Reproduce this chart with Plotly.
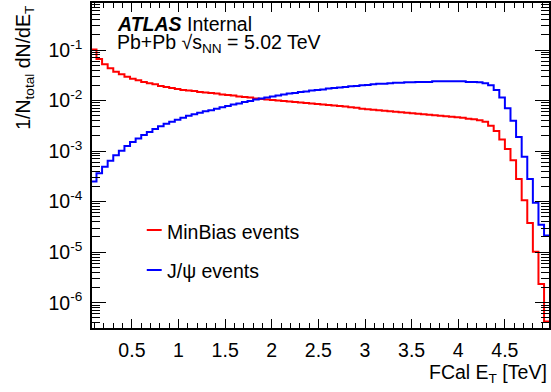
import numpy as np
import plotly.graph_objects as go

# FCal E_T binning [TeV]
bin_width = 0.06
first_edge = 0.06
n_bins = 82

# 1/N_total dN/dE_T per bin, minimum-bias sample
minbias = [
    1.02e-1, 6.61e-2, 5.25e-2, 4.37e-2, 3.72e-2, 3.31e-2, 2.95e-2, 2.69e-2, 2.51e-2, 2.34e-2,
    2.19e-2, 2.09e-2, 1.95e-2, 1.86e-2, 1.78e-2, 1.70e-2, 1.62e-2, 1.58e-2, 1.55e-2, 1.48e-2,
    1.45e-2, 1.41e-2, 1.38e-2, 1.32e-2, 1.29e-2, 1.26e-2, 1.20e-2, 1.17e-2, 1.15e-2, 1.10e-2,
    1.07e-2, 1.05e-2, 1.02e-2, 1.00e-2, 9.77e-3, 9.55e-3, 9.33e-3, 9.12e-3, 8.91e-3, 8.71e-3,
    8.51e-3, 8.32e-3, 8.13e-3, 7.94e-3, 7.76e-3, 7.59e-3, 7.41e-3, 7.24e-3, 6.92e-3, 6.76e-3,
    6.61e-3, 6.46e-3, 6.31e-3, 6.17e-3, 6.03e-3, 5.89e-3, 5.75e-3, 5.62e-3, 5.50e-3, 5.37e-3,
    5.25e-3, 5.13e-3, 5.01e-3, 4.90e-3, 4.79e-3, 4.68e-3, 4.57e-3, 4.37e-3, 4.27e-3, 4.07e-3,
    3.80e-3, 3.16e-3, 2.51e-3, 1.70e-3, 1.10e-3, 6.61e-4, 2.82e-4, 1.07e-4, 3.80e-5, 1.02e-5,
    2.34e-6, 4.27e-7,
]

# 1/N_total dN/dE_T per bin, J/psi-triggered sample
jpsi = [
    2.51e-4, 3.63e-4, 4.90e-4, 6.46e-4, 8.32e-4, 1.02e-3, 1.26e-3, 1.51e-3, 1.78e-3, 2.09e-3,
    2.40e-3, 2.75e-3, 3.09e-3, 3.47e-3, 3.80e-3, 4.17e-3, 4.57e-3, 5.01e-3, 5.37e-3, 5.75e-3,
    6.17e-3, 6.46e-3, 6.92e-3, 7.41e-3, 7.76e-3, 8.32e-3, 8.71e-3, 9.33e-3, 9.77e-3, 1.05e-2,
    1.10e-2, 1.15e-2, 1.20e-2, 1.26e-2, 1.32e-2, 1.38e-2, 1.41e-2, 1.48e-2, 1.51e-2, 1.58e-2,
    1.62e-2, 1.66e-2, 1.74e-2, 1.78e-2, 1.82e-2, 1.86e-2, 1.91e-2, 1.95e-2, 2.00e-2, 2.04e-2,
    2.09e-2, 2.14e-2, 2.14e-2, 2.19e-2, 2.24e-2, 2.24e-2, 2.29e-2, 2.29e-2, 2.34e-2, 2.34e-2,
    2.34e-2, 2.40e-2, 2.40e-2, 2.40e-2, 2.40e-2, 2.40e-2, 2.40e-2, 2.34e-2, 2.34e-2, 2.29e-2,
    2.19e-2, 2.00e-2, 1.62e-2, 1.15e-2, 7.08e-3, 3.98e-3, 1.91e-3, 7.76e-4, 2.82e-4, 9.55e-5,
    3.47e-5, 2.14e-5,
]

y_tick_vals = [1e-6, 1e-5, 1e-4, 1e-3, 1e-2, 1e-1]
y_tick_text = ["10<sup>-6</sup>", "10<sup>-5</sup>", "10<sup>-4</sup>",
               "10<sup>-3</sup>", "10<sup>-2</sup>", "10<sup>-1</sup>"]

edges = first_edge + bin_width * np.arange(n_bins + 1)

FONT = "Liberation Sans, Arial, Helvetica, sans-serif"
FS = 19.5

fig = go.Figure()
for vals, color in [(minbias, "#ff0000"), (jpsi, "#0000ff")]:
    fig.add_trace(go.Scatter(
        x=edges, y=list(vals) + [vals[-1]],
        mode="lines", line=dict(color=color, width=2, shape="hv"),
        showlegend=False, hoverinfo="skip",
    ))

# log minor ticks 2..9 per decade
minor_vals = [m * 10.0 ** d for d in range(-7, 0) for m in range(2, 10)]

fig.update_layout(
    width=551, height=392,
    margin=dict(l=92, r=0, t=3, b=64),
    paper_bgcolor="white", plot_bgcolor="white",
    font=dict(family=FONT, size=FS, color="black"),
    xaxis=dict(
        range=[0.072, 4.973], showgrid=False, zeroline=False,
        showline=True, linecolor="black", linewidth=1.5, mirror="ticks",
        ticks="inside", ticklen=9, tickwidth=1, tickcolor="black",
        tick0=0, dtick=0.5,
        minor=dict(ticks="inside", ticklen=5, dtick=0.1, tick0=0, tickcolor="black", tickwidth=1),
        tickfont=dict(size=FS), ticklabelstandoff=4,
    ),
    yaxis=dict(
        type="log", range=[-6.5, -0.07], showgrid=False, zeroline=False,
        showline=True, linecolor="black", linewidth=1.5, mirror="ticks",
        ticks="inside", ticklen=14, tickwidth=1, tickcolor="black",
        tickmode="array", tickvals=y_tick_vals, ticktext=y_tick_text,
        minor=dict(ticks="inside", ticklen=8, tickmode="array", tickvals=minor_vals,
                   tickcolor="black", tickwidth=1),
        tickfont=dict(size=FS), ticklabelstandoff=4,
    ),
)

ann = []
ann.append(dict(x=(115 - 92) / 459, y=(328 - 24.5) / 325, xref="paper", yref="paper",
                xanchor="left", yanchor="middle", showarrow=False,
                text="<b><i>ATLAS</i></b> Internal"))
ann.append(dict(x=(115 - 92) / 459, y=(328 - 43) / 325, xref="paper", yref="paper",
                xanchor="left", yanchor="middle", showarrow=False,
                text="Pb+Pb \u221as<sub>NN</sub> = 5.02 TeV"))
ann.append(dict(x=(165 - 92) / 459, y=(328 - 231.5) / 325, xref="paper", yref="paper",
                xanchor="left", yanchor="middle", showarrow=False, text="MinBias events"))
ann.append(dict(x=(165 - 92) / 459, y=(328 - 271) / 325, xref="paper", yref="paper",
                xanchor="left", yanchor="middle", showarrow=False, text="J/\u03c8 events"))
ann.append(dict(x=1.0, y=(328 - 373) / 325, xref="paper", yref="paper",
                xanchor="right", yanchor="middle", showarrow=False,
                text="FCal E<sub>T</sub> [TeV]"))
ann.append(dict(x=(24 - 92) / 459, y=1.0, xref="paper", yref="paper",
                xanchor="center", yanchor="top", showarrow=False, textangle=-90,
                text="1/N<sub>total</sub> dN/dE<sub>T</sub>"))
fig.update_layout(annotations=ann)

# legend key lines
for yk, color in [(230, "#ff0000"), (270, "#0000ff")]:
    fig.add_shape(type="line", xref="paper", yref="paper",
                  x0=(147 - 92) / 459, x1=(162 - 92) / 459,
                  y0=(328 - yk) / 325, y1=(328 - yk) / 325,
                  line=dict(color=color, width=2))

fig.write_html("out.html")
